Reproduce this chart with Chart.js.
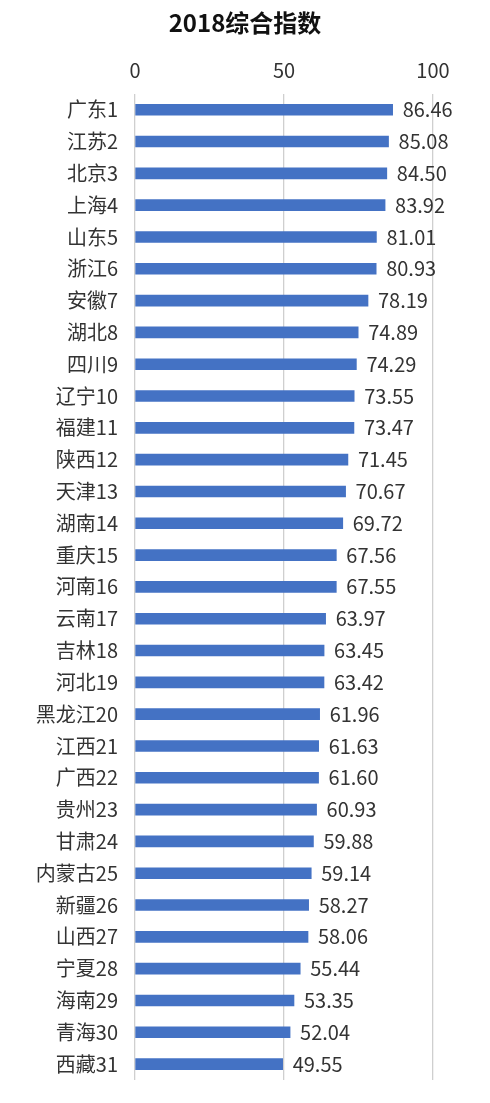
<!DOCTYPE html>
<html>
<head>
<meta charset="utf-8">
<script src="https://cdn.jsdelivr.net/npm/chart.js@4"></script>
<style>
  html, body { margin: 0; padding: 0; background: #fff; }
  #wrap { width: 490px; height: 1103px; }
</style>
</head>
<body>
<div id="wrap"><canvas id="c"></canvas></div>
<script>
const provinces = ['广东1','江苏2','北京3','上海4','山东5','浙江6','安徽7','湖北8','四川9','辽宁10',
  '福建11','陕西12','天津13','湖南14','重庆15','河南16','云南17','吉林18','河北19','黑龙江20',
  '江西21','广西22','贵州23','甘肃24','内蒙古25','新疆26','山西27','宁夏28','海南29','青海30','西藏31'];
const scores = [86.46, 85.08, 84.50, 83.92, 81.01, 80.93, 78.19, 74.89, 74.29, 73.55,
  73.47, 71.45, 70.67, 69.72, 67.56, 67.55, 63.97, 63.45, 63.42, 61.96,
  61.63, 61.60, 60.93, 59.88, 59.14, 58.27, 58.06, 55.44, 53.35, 52.04, 49.55];
const xTicks = [0, 50, 100];

const FONT = '"Noto Sans CJK SC", "Noto Sans", sans-serif';

// value labels at the end of each bar
const valueLabels = {
  id: 'valueLabels',
  afterDatasetsDraw(chart) {
    const ctx = chart.ctx;
    const meta = chart.getDatasetMeta(0);
    ctx.save();
    ctx.font = '20px ' + FONT;
    ctx.fillStyle = '#333333';
    ctx.textAlign = 'left';
    ctx.textBaseline = 'middle';
    meta.data.forEach((bar, i) => {
      ctx.fillText(scores[i].toFixed(2), bar.x + 10, bar.y);
    });
    ctx.restore();
  }
};

new Chart(document.getElementById('c'), {
  type: 'bar',
  data: {
    labels: provinces,
    datasets: [{
      data: scores,
      backgroundColor: '#4472C4',
      barThickness: 11
    }]
  },
  options: {
    indexAxis: 'y',
    responsive: true,
    maintainAspectRatio: false,
    animation: false,
    layout: { padding: { left: 0, right: 0, bottom: 23, top: 0 } },
    plugins: {
      legend: { display: false },
      tooltip: { enabled: false },
      title: {
        display: true,
        text: '2018综合指数',
        color: '#111111',
        font: { family: FONT, size: 24, weight: 'bold' },
        padding: { top: 8, bottom: 8 }
      }
    },
    scales: {
      x: {
        position: 'top',
        min: 0,
        max: 100,
        afterBuildTicks(axis) { axis.ticks = xTicks.map(v => ({ value: v })); },
        afterFit(axis) { axis.height = 49; },
        ticks: {
          color: '#333333',
          font: { family: FONT, size: 20 },
          padding: 11
        },
        grid: { color: '#cfcfcf', lineWidth: 1.3, drawTicks: false },
        border: { display: false }
      },
      y: {
        afterFit(axis) {
          axis.width = 135;
          // labels sit in the middle of each band, no overhang room needed
          axis.paddingTop = 0;
          axis.paddingBottom = 0;
        },
        ticks: {
          color: '#333333',
          font: { family: FONT, size: 20 },
          padding: 17
        },
        grid: { display: false, drawTicks: false },
        border: { display: false }
      },
      // empty right-hand axis, only reserves room for the value labels
      yRight: {
        type: 'category',
        position: 'right',
        labels: provinces,
        afterFit(axis) {
          axis.width = 57;
          axis.paddingTop = 0;
          axis.paddingBottom = 0;
        },
        ticks: { display: false },
        grid: { display: false, drawTicks: false },
        border: { display: false }
      }
    }
  },
  plugins: [valueLabels]
});
</script>
</body>
</html>
